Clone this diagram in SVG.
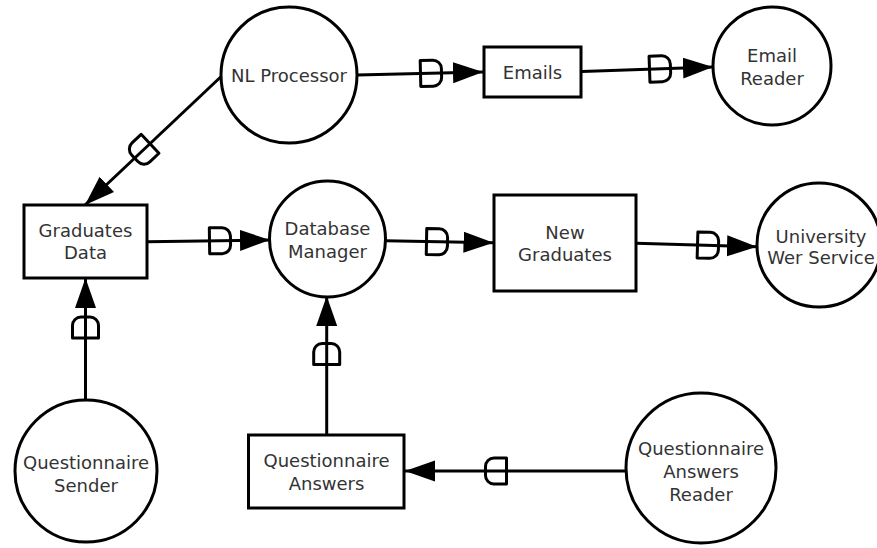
<svg xmlns="http://www.w3.org/2000/svg" xmlns:xlink="http://www.w3.org/1999/xlink" width="877" height="548" viewBox="0 0 877 548">
  <style>
    .shape { fill: #ffffff; stroke: #000000; stroke-width: 3; }
    .label { font-family: "DejaVu Sans", "Liberation Sans", sans-serif; font-size: 18px; fill: #333333; text-anchor: middle; }
    .flow { fill: none; stroke: #000000; stroke-width: 3; marker-end: url(#arrow); }
    .dee { fill: none; stroke: #000000; stroke-width: 3; stroke-linejoin: round; }
  </style>
  <defs>
    <marker id="arrow" markerUnits="userSpaceOnUse" markerWidth="31" markerHeight="22" refX="30" refY="10.5" orient="auto">
      <path d="M0,0 L30,10.5 L0,21 Z" fill="#000000"/>
    </marker>
    <!-- data-flow token: flat back, rounded front, pointing along +x -->
    <path id="dee" class="dee" d="M-10.5,-13 H2 A8.5,8.5 0 0 1 10.5,-4.5 V4.5 A8.5,8.5 0 0 1 2,13 H-10.5 Z"/>
  </defs>

  <g id="connectors">
    <line class="flow" x1="357" y1="75" x2="483" y2="72"/>
    <use xlink:href="#dee" transform="translate(431,73.2) rotate(-1.4)"/>

    <line class="flow" x1="582" y1="71.5" x2="713" y2="67"/>
    <use xlink:href="#dee" transform="translate(660,68.8) rotate(-2)"/>

    <line class="flow" x1="221.7" y1="76" x2="85" y2="205"/>
    <use xlink:href="#dee" transform="translate(142.4,151) rotate(136.7)"/>

    <line class="flow" x1="147" y1="241.7" x2="270" y2="240"/>
    <use xlink:href="#dee" transform="translate(220,240.7) rotate(-0.8)"/>

    <line class="flow" x1="385" y1="240.7" x2="493.5" y2="242.7"/>
    <use xlink:href="#dee" transform="translate(437,241.7) rotate(1.1)"/>

    <line class="flow" x1="636" y1="243.3" x2="757" y2="246.7"/>
    <use xlink:href="#dee" transform="translate(708,245.3) rotate(1.6)"/>

    <line class="flow" x1="85.5" y1="400" x2="85.5" y2="278"/>
    <use xlink:href="#dee" transform="translate(85.5,327.5) rotate(-90)"/>

    <line class="flow" x1="326.7" y1="435" x2="326.7" y2="296"/>
    <use xlink:href="#dee" transform="translate(326.7,354) rotate(-90)"/>

    <line class="flow" x1="626" y1="471" x2="405" y2="471"/>
    <use xlink:href="#dee" transform="translate(496,471) rotate(180)"/>
  </g>

  <g id="nl-processor">
    <circle class="shape" cx="289" cy="75" r="68"/>
    <text class="label" x="289" y="81.5">NL Processor</text>
  </g>

  <g id="emails">
    <rect class="shape" x="484" y="47" width="97" height="50"/>
    <text class="label" x="532.5" y="78.5">Emails</text>
  </g>

  <g id="email-reader">
    <circle class="shape" cx="772" cy="66" r="59"/>
    <text class="label" x="772" y="61.5">Email</text>
    <text class="label" x="772" y="84.5">Reader</text>
  </g>

  <g id="graduates-data">
    <rect class="shape" x="24" y="205" width="123" height="73"/>
    <text class="label" x="85.5" y="236.5">Graduates</text>
    <text class="label" x="85.5" y="259">Data</text>
  </g>

  <g id="database-manager">
    <circle class="shape" cx="327.5" cy="239" r="58"/>
    <text class="label" x="327.5" y="235">Database</text>
    <text class="label" x="327.5" y="257.5">Manager</text>
  </g>

  <g id="new-graduates">
    <rect class="shape" x="494" y="195" width="142" height="96"/>
    <text class="label" x="565" y="238.5">New</text>
    <text class="label" x="565" y="261">Graduates</text>
  </g>

  <g id="university-web-service">
    <circle class="shape" cx="819" cy="245" r="62"/>
    <text class="label" x="821" y="242.5">University</text>
    <text class="label" x="821" y="264">Wer Service</text>
  </g>

  <g id="questionnaire-sender">
    <circle class="shape" cx="86" cy="471" r="71"/>
    <text class="label" x="86" y="469">Questionnaire</text>
    <text class="label" x="86" y="491.5">Sender</text>
  </g>

  <g id="questionnaire-answers">
    <rect class="shape" x="248.5" y="435" width="155.5" height="73"/>
    <text class="label" x="326.5" y="466.5">Questionnaire</text>
    <text class="label" x="326.5" y="489.5">Answers</text>
  </g>

  <g id="questionnaire-answers-reader">
    <circle class="shape" cx="701" cy="468" r="75"/>
    <text class="label" x="701" y="455">Questionnaire</text>
    <text class="label" x="701" y="478">Answers</text>
    <text class="label" x="701" y="501">Reader</text>
  </g>
</svg>
